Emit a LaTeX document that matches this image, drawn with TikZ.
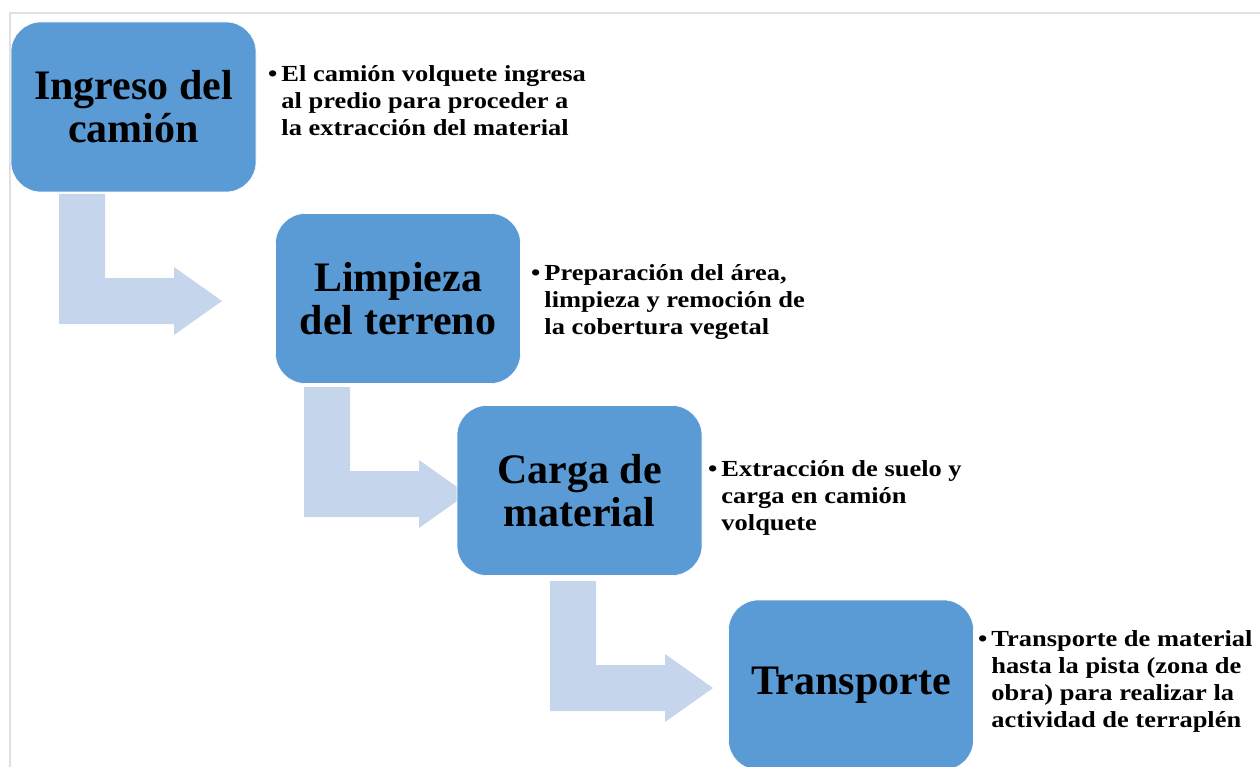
\documentclass[tikz,border=0pt]{standalone}
\usepackage{fontspec}
\setmainfont{Liberation Serif}
\newfontfamily\descfont[FakeStretch=1.15]{Liberation Serif}
\usetikzlibrary{positioning}
\definecolor{stepBlue}{RGB}{91,155,213}
\definecolor{arrowBlue}{RGB}{197,213,235}
\definecolor{frameGray}{RGB}{224,224,224}

\newcommand{\bulletlines}[1]{\textbullet\hspace{4pt}\begin{tabular}[t]{@{}l@{}}#1\end{tabular}}

\tikzset{
  stepbox/.style={fill=stepBlue, draw=white, line width=0.6pt, rounded corners=30pt,
    minimum width=245pt, minimum height=170pt, inner sep=0pt, align=center,
    font=\fontsize{42}{43}\selectfont\bfseries},
  desc/.style={anchor=base west, inner sep=0pt, align=left,
    font=\descfont\fontsize{23}{27}\selectfont\bfseries},
  bentarrow/.pic={
    \fill[arrowBlue] (0,0) -- (46,0) -- (46,84) -- (115,84) -- (115,73) -- (163,107)
      -- (115,141) -- (115,130) -- (0,130) -- cycle;
  }
}

\begin{document}
\begin{tikzpicture}[x=1pt, y=-1pt]
  \useasboundingbox (0,0) rectangle (1260,767);
  \clip (0,0) rectangle (1260,767);
  % outer frame
  \draw[frameGray, line width=2pt] (10,780) -- (10,13) -- (1270,13);

  % bent arrows go under the boxes
  \pic at (59,194) {bentarrow};
  \pic at (304,387) {bentarrow};
  \pic at (550,581) {bentarrow};

  % steps
  \node[stepbox] (ingreso) at (133.5,107) {Ingreso del\\camión};
  \node[stepbox] (limpieza) at (398,298.5) {Limpieza\\del terreno};
  \node[stepbox] (carga) at (579.5,490.5) {Carga de\\material};
  \node[stepbox] (transporte) at (851,685) {Transporte};

  % descriptions
  \node[desc] (ingresoTxt) at (268,82) {\bulletlines{El camión volquete ingresa\\
    al predio para proceder a\\ la extracción del material}};
  \node[desc] (limpiezaTxt) at (531,280) {\bulletlines{Preparación del área,\\
    limpieza y remoción de\\ la cobertura vegetal}};
  \node[desc] (cargaTxt) at (708,476) {\bulletlines{Extracción de suelo y\\
    carga en camión\\ volquete}};
  \node[desc] (transporteTxt) at (978,646) {\bulletlines{Transporte de material\\
    hasta la pista (zona de\\ obra) para realizar la\\ actividad de terraplén}};
\end{tikzpicture}
\end{document}
